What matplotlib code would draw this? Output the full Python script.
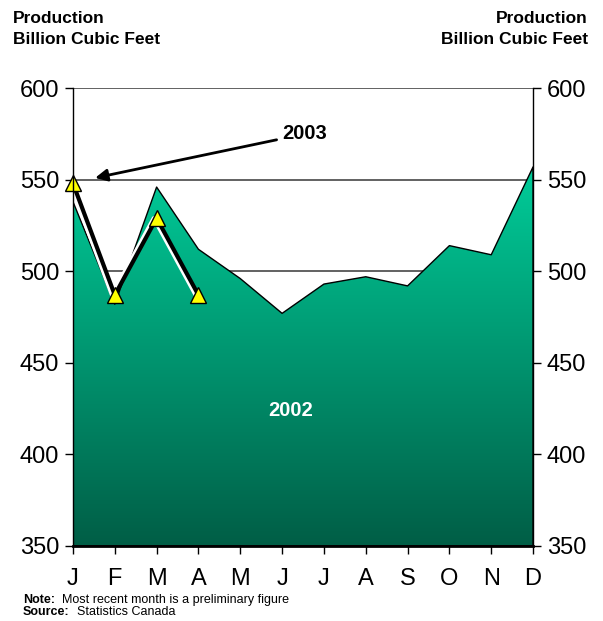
import numpy as np
import matplotlib.pyplot as plt
import matplotlib.patheffects as pe
from matplotlib.colors import LinearSegmentedColormap

plt.rcParams['font.family'] = ['Liberation Sans', 'DejaVu Sans']

# Datos
months = ['J', 'F', 'M', 'A', 'M', 'J', 'J', 'A', 'S', 'O', 'N', 'D']
prod_2002 = [538, 482, 546, 512, 496, 477, 493, 497, 492, 514, 509, 557]
prod_2003 = [548, 487, 529, 487]
yticks = [350, 400, 450, 500, 550, 600]

x = np.arange(len(months))
x03 = np.arange(len(prod_2003))

fig = plt.figure(figsize=(6.03, 6.21), dpi=100)
ax = fig.add_axes([0.121, 0.121, 0.763, 0.737])
ax.set_xlim(0, 11)
ax.set_ylim(350, 600)

# lineas de cuadricula
for yv in [500, 550, 600]:
    ax.axhline(yv, color='#555555', lw=1.3, zorder=1)

# area 2002 con degradado
poly = ax.fill_between(x, prod_2002, 350, color='none', edgecolor='black', lw=1, zorder=3)
cmap = LinearSegmentedColormap.from_list('g', ['#005E46', '#00CC99'])
grad = np.linspace(0, 1, 256).reshape(-1, 1)
img = ax.imshow(grad, cmap=cmap, origin='lower', aspect='auto',
                extent=[0, 11, 350, max(prod_2002)], zorder=2)
img.set_clip_path(poly.get_paths()[0], transform=ax.transData)

# linea 2003 (con sombra blanca)
ax.plot(x03, prod_2003, color='black', lw=3, zorder=5,
        path_effects=[pe.SimpleLineShadow(offset=(-2, 0), shadow_color='white', alpha=1),
                      pe.Normal()])
ax.plot(x03, prod_2003, ls='none', marker='^', ms=12, mfc='#FFFF00', mec='black',
        mew=1, zorder=6, clip_on=False)

ax.annotate('2003', xy=(0.53, 551), xytext=(5.0, 575), fontsize=14.5, fontweight='bold',
            va='center', ha='left',
            arrowprops=dict(arrowstyle='-|>', color='black', lw=2, mutation_scale=18,
                            shrinkA=2, shrinkB=0),
            zorder=7)
ax.text(5.2, 424, '2002', color='white', fontsize=14.5, fontweight='bold',
        ha='center', va='center', zorder=7)

# ejes
ax.set_xticks(x)
ax.set_xticklabels(months, fontsize=17)
ax.set_yticks(yticks)
ax.set_yticklabels(yticks, fontsize=17)
ax.tick_params(axis='x', direction='out', length=6, width=1, pad=10)
ax.tick_params(axis='y', direction='out', length=6, width=1, left=True, right=True,
               labelleft=True, labelright=True, pad=4)
ax.spines['top'].set_visible(False)
for s in ['left', 'right']:
    ax.spines[s].set_linewidth(1)
ax.spines['bottom'].set_linewidth(2)
for s in ax.spines.values():
    s.set_zorder(8)

fig.text(0.022, 0.982, 'Production\nBillion Cubic Feet', fontsize=12.5, fontweight='bold',
         ha='left', va='top', linespacing=1.45)
fig.text(0.975, 0.982, 'Production\nBillion Cubic Feet', fontsize=12.5, fontweight='bold',
         ha='right', va='top', linespacing=1.45, multialignment='right')

# notas
note = fig.text(0.038, 0.034, 'Note:', fontsize=9, fontweight='bold', ha='left', va='center')
ax.annotate('  Most recent month is a preliminary figure', xy=(1, 0.5), xycoords=note,
            fontsize=9, ha='left', va='center', annotation_clip=False)
src = fig.text(0.038, 0.014, 'Source:', fontsize=9, fontweight='bold', ha='left', va='center')
ax.annotate('  Statistics Canada', xy=(1, 0.5), xycoords=src,
            fontsize=9, ha='left', va='center', annotation_clip=False)

fig.savefig('out.png', dpi=100)
